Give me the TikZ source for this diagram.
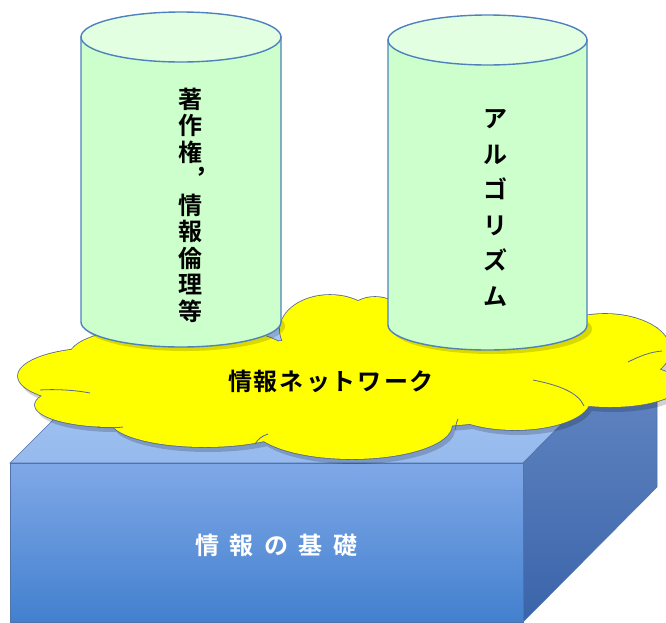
\documentclass[tikz,border=0pt]{standalone}
\usepackage{fontspec}
\newfontfamily\jpb{Noto Sans CJK JP Bold}
\definecolor{cylfill}{RGB}{204,255,204}
\definecolor{cyltop}{RGB}{226,255,226}
\definecolor{cylline}{RGB}{79,129,189}
\definecolor{cloudfill}{RGB}{255,255,0}
\definecolor{cloudline}{RGB}{85,105,140}
\definecolor{fronttop}{RGB}{128,168,232}
\definecolor{frontbot}{RGB}{66,128,206}
\definecolor{topface}{RGB}{150,186,238}
\definecolor{sidetop}{RGB}{106,140,198}
\definecolor{sidebot}{RGB}{58,100,170}
\definecolor{boxline}{RGB}{80,115,170}
\tikzset{
  cyltext/.style={font=\jpb\fontsize{24}{26.5}\selectfont, align=center, inner sep=0pt},
  lbl/.style={font=\jpb\fontsize{24}{28}\selectfont, inner sep=0pt},
  fold/.style={draw=cloudline, line width=0.8pt},
  cylstyle/.style={draw=cylline, line width=1.4pt},
}
\newcommand\cloudpath{%
  (100,376) ellipse [x radius=82pt, y radius=28pt]
  (112,405) ellipse [x radius=77pt, y radius=22pt]
  (205,420) ellipse [x radius=95pt, y radius=27pt]
  (352,425) ellipse [x radius=100pt, y radius=34pt]
  (515,400) ellipse [x radius=75pt, y radius=30pt]
  (610,385) ellipse [x radius=70pt, y radius=22pt]
  (605,350) ellipse [x radius=65pt, y radius=36pt]
  (330,330) ellipse [x radius=50pt, y radius=35pt]
  (375,320) ellipse [x radius=30pt, y radius=23pt]
  (480,340) ellipse [x radius=115pt, y radius=35pt]
  (180,355) ellipse [x radius=110pt, y radius=30pt]
  (340,385) ellipse [x radius=260pt, y radius=45pt]}
\begin{document}
\begin{tikzpicture}[x=1pt,y=-1pt]
\useasboundingbox (0,0) rectangle (666,622);
% base box
\shade[top color=topface!80!white, bottom color=topface, draw=boxline, line width=0.6pt]
  (10,463) -- (145,328) -- (657,328) -- (523,463) -- cycle;
\shade[top color=sidetop, bottom color=sidebot, draw=boxline, line width=0.6pt]
  (523,463) -- (657,328) -- (657,487) -- (523,622) -- cycle;
\shade[top color=fronttop, bottom color=frontbot, draw=boxline, line width=0.6pt]
  (10,463) rectangle (523,622);
% cloud shadow
\begin{scope}[shift={(3,5)}]
\fill[black, opacity=0.18] \cloudpath;
\end{scope}
% cloud
\draw[cloudline, line width=1.6pt] \cloudpath;
\fill[cloudfill] \cloudpath;
\path[fold] (533,380) .. controls (558,385) and (578,392) .. (584,406);
\path[fold] (628,362) .. controls (640,356) and (650,352) .. (662,351);
\path[fold] (40,390) .. controls (55,389) and (75,390) .. (90,393);
\path[fold] (97,427) .. controls (105,428) and (115,428) .. (123,427);
\path[fold] (255,444) .. controls (258,439) and (262,436) .. (268,434);
\path[fold] (455,430) .. controls (456,426) and (456,423) .. (458,419);
% left cylinder
\fill[black, opacity=0.15] (185,326) ellipse [x radius=100pt, y radius=25pt];
\filldraw[fill=cylfill, cylstyle]
  (81,37) -- (81,322) arc[start angle=180, end angle=360, x radius=100pt, y radius=25pt]
  -- (281,37) -- cycle;
\filldraw[fill=cyltop, cylstyle] (181,37) ellipse [x radius=100pt, y radius=25pt];
% right cylinder
\fill[black, opacity=0.15] (492,329) ellipse [x radius=100pt, y radius=25pt];
\filldraw[fill=cylfill, cylstyle]
  (388,40) -- (388,325) arc[start angle=180, end angle=360, x radius=99.5pt, y radius=25pt]
  -- (587,40) -- cycle;
\filldraw[fill=cyltop, cylstyle] (487.5,40) ellipse [x radius=99.5pt, y radius=25pt];
% texts
\node[cyltext] (ltext) at (190,205) {著\\作\\権\\\hspace*{10pt}︐\\情\\報\\倫\\理\\等};
\node[cyltext, font=\jpb\fontsize{24}{35.5}\selectfont] (rtext) at (495,208) {ア\\ル\\ゴ\\リ\\ズ\\ム};
\node[lbl] (net) at (331,381) {情\kern2pt 報\kern2pt ネ\kern2pt ッ\kern2pt ト\kern2pt ワ\kern2pt ー\kern2pt ク};
\node[lbl, text=white] (base) at (276,545) {情\kern10.5pt 報\kern10.5pt の\kern10.5pt 基\kern10.5pt 礎};
\end{tikzpicture}
\end{document}
